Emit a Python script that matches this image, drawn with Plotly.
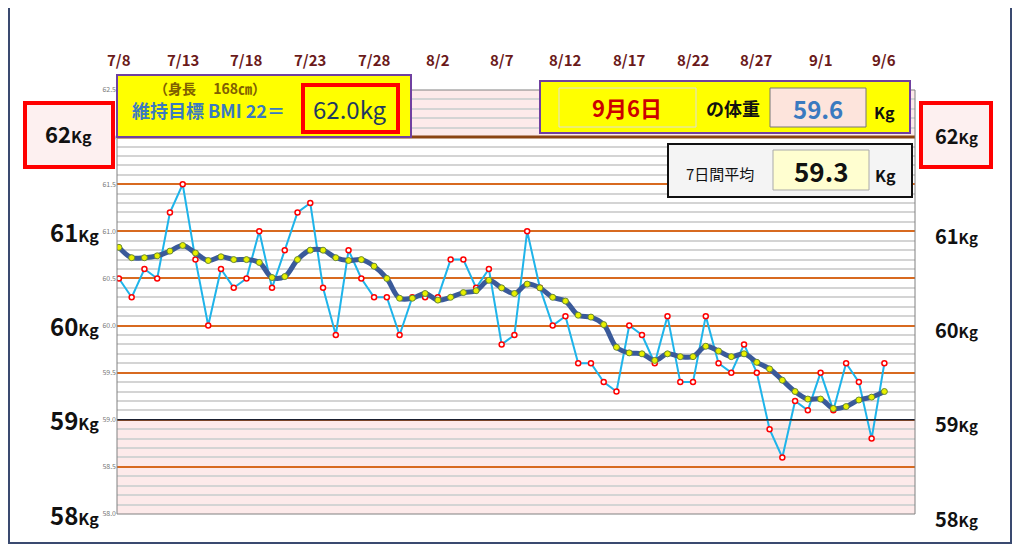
import plotly.graph_objects as go

# 7/8 .. 9/6 (61 days)
dias = list(range(61))
etiquetas_x = ["7/8", "7/13", "7/18", "7/23", "7/28", "8/2", "8/7", "8/12",
               "8/17", "8/22", "8/27", "9/1", "9/6"]
peso_diario = [60.5, 60.3, 60.6, 60.5, 61.2, 61.5, 60.7, 60.0, 60.6, 60.4,
               60.5, 61.0, 60.4, 60.8, 61.2, 61.3, 60.4, 59.9, 60.8, 60.5,
               60.3, 60.3, 59.9, 60.3, 60.3, 60.3, 60.7, 60.7, 60.4, 60.6,
               59.8, 59.9, 61.0, 60.4, 60.0, 60.1, 59.6, 59.6, 59.4, 59.3,
               60.0, 59.9, 59.6, 60.1, 59.4, 59.4, 60.1, 59.6, 59.5, 59.8,
               59.5, 58.9, 58.6, 59.2, 59.1, 59.5, 59.1, 59.6, 59.4, 58.8,
               59.6]
promedio_7 = [60.83, 60.72, 60.72, 60.74, 60.79, 60.85, 60.77, 60.69, 60.73, 60.70,
              60.70, 60.67, 60.51, 60.52, 60.70, 60.80, 60.80, 60.72, 60.69, 60.70,
              60.63, 60.50, 60.29, 60.29, 60.34, 60.27, 60.30, 60.35, 60.37, 60.48,
              60.40, 60.34, 60.44, 60.40, 60.30, 60.26, 60.11, 60.09, 60.01, 59.77,
              59.71, 59.70, 59.63, 59.70, 59.67, 59.67, 59.78, 59.73, 59.67, 59.70,
              59.61, 59.54, 59.42, 59.30, 59.22, 59.22, 59.12, 59.14, 59.21, 59.24,
              59.30]
kg_labels = [58, 59, 60, 61]

# page has an 8px body margin, so work in screen pixels and shift
OFF = 8
W, H = 1024 - OFF, 550 - OFF
L, R, T, B = 117, 915, 90, 514


def xp(px):
    return (px - L) / (R - L)


def yp(py):
    return (B - py) / (B - T)


fig = go.Figure()
fig.add_trace(go.Scatter(
    x=dias, y=peso_diario, mode="lines+markers",
    line=dict(color="#1fb4ea", width=2),
    marker=dict(size=5, color="white", line=dict(color="red", width=1.5)),
    showlegend=False))
fig.add_trace(go.Scatter(
    x=dias, y=promedio_7, mode="lines+markers",
    line=dict(color="#3a5a9a", width=5, shape="spline"),
    marker=dict(size=6, color="#e8f000", line=dict(color="#6a8a30", width=1)),
    showlegend=False))

shapes = [
    # frame
    dict(type="rect", xref="paper", yref="paper", x0=xp(9), x1=xp(1011), y0=yp(543), y1=yp(6),
         line=dict(color="#3a4a70", width=2), layer="below"),
    # pink zones
    dict(type="rect", xref="paper", yref="y", x0=0, x1=1, y0=62, y1=62.5,
         fillcolor="#fdeaea", line_width=0, layer="below"),
    dict(type="rect", xref="paper", yref="y", x0=0, x1=1, y0=58, y1=59,
         fillcolor="#fdeaea", line_width=0, layer="below"),
    dict(type="line", xref="paper", yref="y", x0=0, x1=1, y0=62, y1=62,
         line=dict(color="#8b4513", width=3)),
    dict(type="line", xref="paper", yref="y", x0=0, x1=1, y0=59, y1=59,
         line=dict(color="#1a2030", width=1.5)),
    dict(type="rect", xref="paper", yref="paper", x0=0, x1=1, y0=0, y1=1,
         line=dict(color="#808080", width=1)),
]


def caja(x0, y0, x1, y1, fill, color, w):
    shapes.append(dict(type="rect", xref="paper", yref="paper",
                       x0=xp(x0), x1=xp(x1), y0=yp(y1), y1=yp(y0),
                       fillcolor=fill, line=dict(color=color, width=w)))


caja(25, 103, 113, 167, "#fdf0f0", "red", 4)
caja(921, 103, 991, 167, "#fdf0f0", "red", 4)
caja(117, 75, 411, 137, "yellow", "#7040a0", 2)
caja(303, 85, 398, 132, "yellow", "red", 4)
caja(540, 81, 910, 133, "yellow", "#7040a0", 2)
caja(559, 88, 696, 127, "yellow", "#dddddd", 1)
caja(770, 88, 866, 127, "#fde4dc", "#777777", 1)
caja(668, 144, 912, 197, "#f4f4f4", "#111111", 2)
caja(773, 150, 869, 190, "#fffed0", "#aaaaaa", 1)

ann = []


def texto(px, py, t, size, color, bold=False, anchor="center"):
    ann.append(dict(xref="paper", yref="paper", x=xp(px), y=yp(py), text=f"<b>{t}</b>" if bold else t,
                    showarrow=False, xanchor=anchor, yanchor="middle",
                    font=dict(size=size, color=color)))


for i, lab in enumerate(etiquetas_x):
    ann.append(dict(xref="x", yref="paper", x=i * 5, y=yp(47), text=f"<b>{lab}</b>",
                    showarrow=False, font=dict(size=15, color="#6b1a1a")))

for v in kg_labels:
    py = B - (v - 58) * (B - T) / 4.5
    t = f"<b>{v}<span style='font-size:16px'>Kg</span></b>"
    texto(74, py, t, 24, "#111111")
    texto(956, py + 4, f"<b>{v}<span style='font-size:15px'>Kg</span></b>", 20, "#111111")
texto(68, 133, "<b>62<span style='font-size:16px'>Kg</span></b>", 22, "#111111")
texto(956, 135, "<b>62<span style='font-size:15px'>Kg</span></b>", 20, "#111111")

texto(210, 88, "（身長　 168㎝）", 14, "#806000", bold=True)
texto(208, 110, "維持目標 BMI 22＝", 18, "#3a7ac0", bold=True)
texto(350, 109, "62.0kg", 24, "#1f3a60")
texto(627, 107, "9月6日", 22, "#cc0000", bold=True)
texto(733, 108, "の体重", 18, "#111111", bold=True)
texto(818, 108, "59.6", 24, "#3a7ac0", bold=True)
texto(884, 112, "Kg", 16, "#111111", bold=True)
texto(720, 173, "7日間平均", 15, "#111111")
texto(821, 170, "59.3", 26, "#111111", bold=True)
texto(885, 175, "Kg", 16, "#111111", bold=True)

fig.update_layout(
    width=W, height=H,
    margin=dict(l=L - OFF, r=W - (R - OFF), t=T - OFF, b=H - (B - OFF)),
    paper_bgcolor="white", plot_bgcolor="rgba(0,0,0,0)",
    font=dict(family="Noto Sans CJK JP"),
    shapes=shapes, annotations=ann,
    xaxis=dict(range=[-0.15, 62.4], showticklabels=False, showgrid=False, zeroline=False),
    yaxis=dict(range=[58, 62.5], tickvals=[58 + 0.5 * i for i in range(10)],
               ticktext=[f"{58 + 0.5 * i:.1f}" for i in range(10)],
               tickfont=dict(size=7, color="#777777"),
               gridcolor="#d86a20", gridwidth=1.5, zeroline=False,
               minor=dict(dtick=0.1, showgrid=True, gridcolor="#d4d4d4", gridwidth=1.5)),
)
fig.write_html("out.html")
